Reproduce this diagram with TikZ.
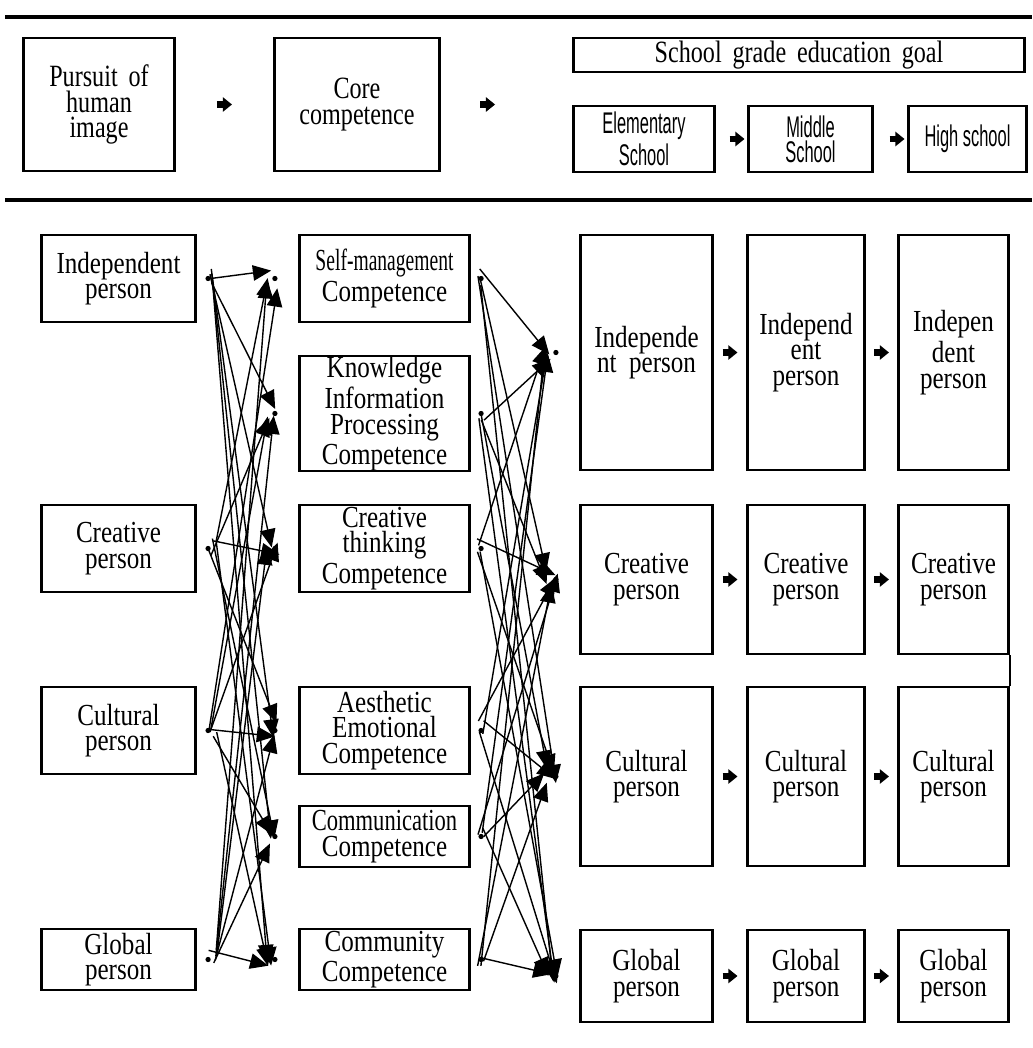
\documentclass[tikz,border=0pt]{standalone}
\usepackage{fontspec}
\usepackage{graphicx}
\setmainfont{Liberation Serif}
\newfontfamily\topserif{Liberation Serif}[FakeStretch=0.78, WordSpace=1.8]
\newfontfamily\lowserif{Liberation Serif}[FakeStretch=0.82]
\newfontfamily\narrowsans{Liberation Sans}[FakeStretch=0.55]
\usetikzlibrary{arrows.meta, calc}
\tikzstyle{frame} = [rectangle, draw=black, line width=0.6pt, inner sep=0pt, text centered, align=center, path picture={\draw[line width=1.3pt] (path picture bounding box.north west) -- (path picture bounding box.south west) (path picture bounding box.north east) -- (path picture bounding box.south east);}]
\tikzstyle{top} = [frame, font=\topserif\fontsize{8.8}{7.3}\selectfont]
\tikzstyle{grade} = [frame, font=\narrowsans\fontsize{8.5}{7.2}\selectfont, minimum height=0.66cm]
\tikzstyle{person} = [frame, font=\lowserif\fontsize{8.7}{7.2}\selectfont]
\tikzstyle{human} = [person, minimum width=1.55cm, minimum height=0.87cm]
\tikzstyle{comp} = [person, minimum width=1.71cm, minimum height=0.87cm]
\tikzstyle{link} = [line width=0.4pt, -{Triangle[length=5.2pt,width=4.4pt]}]
\tikzstyle{fat} = [line width=1.8pt, -{Triangle[length=2.6pt,width=4pt]}]
\tikzstyle{rule} = [line width=1.1pt]
\newcommand\fatstep[3][0.5]{\draw [fat] ($(#2.east)!#1!(#3.west)$) ++(-7.5,0) -- ++(15,0);}

\begin{document}
\begin{tikzpicture}
[x=0.01cm, y=-0.01cm, nodes={align=center}]
\useasboundingbox (0,0) rectangle (1032,1048);
\draw [rule] (5,17) -- (1032,17);
\draw [rule] (5,200) -- (1032,200);

% header row
\node (pursuit) [top, minimum width=1.52cm, minimum height=1.33cm] at (99,104.5) {Pursuit of\\human\\image};
\node (core) [top, minimum width=1.66cm, minimum height=1.33cm] at (357,104.5) {Core\\competence};
\node (sgoal) [top, minimum width=4.52cm, minimum height=0.34cm] at (799,55) {School grade education goal};
\node (elem) [grade, minimum width=1.42cm] at (644,139) {Elementary\\School};
\node (middle) [grade, minimum width=1.25cm] at (810.5,139) {Middle\\School};
\node (high) [grade, minimum width=1.19cm] at (967.5,139) {High school};

\fatstep{pursuit}{core}
\draw [fat] ($(core.east)+(39,0)$) -- ++(15,0);
\fatstep[0.68]{elem}{middle}
\fatstep[0.7]{middle}{high}

% pursuit of human image
\node (hIndep) [human] at (118.5,278.5) {Independent\\person};
\node (hCreat) [human] at (118.5,548.5) {Creative\\person};
\node (hCult) [human] at (118.5,730.5) {Cultural\\person};
\node (hGlob) [human, minimum height=0.61cm] at (118.5,959.5) {Global\\person};

% core competences
\node (cSelf) [comp] at (384.5,278.5) {\scalebox{0.78}[1]{Self-management}\\Competence};
\node (cKnow) [comp, minimum height=1.13cm] at (384.5,413.5) {Knowledge\\Information\\Processing\\Competence};
\node (cCreat) [comp] at (384.5,548.5) {Creative\\thinking\\Competence};
\node (cAesth) [comp] at (384.5,730.5) {Aesthetic\\Emotional\\Competence};
\node (cComm) [comp, minimum height=0.61cm] at (384.5,836.5) {\scalebox{0.9}[1]{Communication}\\Competence};
\node (cCommu) [comp, minimum height=0.61cm] at (384.5,959.5) {Community\\Competence};

% school grade goals
\node (gInd1) [person, minimum width=1.33cm, minimum height=2.35cm] at (646.5,352.5) {Independe\\nt\ \ person};
\node (gInd2) [person, minimum width=1.18cm, minimum height=2.35cm] at (806,352.5) {Independ\\ent\\person};
\node (gInd3) [person, minimum width=1.11cm, minimum height=2.35cm] at (953.5,352.5) {Indepen\\dent\\person};
\node (gCre1) [person, minimum width=1.33cm, minimum height=1.49cm] at (646.5,579.5) {Creative\\person};
\node (gCre2) [person, minimum width=1.18cm, minimum height=1.49cm] at (806,579.5) {Creative\\person};
\node (gCre3) [person, minimum width=1.11cm, minimum height=1.49cm] at (953.5,579.5) {Creative\\person};
\node (gCul1) [person, minimum width=1.33cm, minimum height=1.79cm] at (646.5,776.5) {Cultural\\person};
\node (gCul2) [person, minimum width=1.18cm, minimum height=1.79cm] at (806,776.5) {Cultural\\person};
\node (gCul3) [person, minimum width=1.11cm, minimum height=1.79cm] at (953.5,776.5) {Cultural\\person};
\node (gGlo1) [person, minimum width=1.33cm, minimum height=0.92cm] at (646.5,976) {Global\\person};
\node (gGlo2) [person, minimum width=1.18cm, minimum height=0.92cm] at (806,976) {Global\\person};
\node (gGlo3) [person, minimum width=1.11cm, minimum height=0.92cm] at (953.5,976) {Global\\person};

\foreach \r in {Ind,Cre,Cul,Glo} {\fatstep{g\r1}{g\r2} \fatstep{g\r2}{g\r3}}
\draw [line width=0.4pt] (gCre3.south east) -- (gCul3.north east);

% dots
\coordinate (ipo) at ($(hIndep.east)+(11,0)$);
\coordinate (cpo) at ($(hCreat.east)+(11,0)$);
\coordinate (cuo) at ($(hCult.east)+(11,0)$);
\coordinate (glo) at ($(hGlob.east)+(11,0)$);
\foreach \c/\n in {sm/cSelf,ki/cKnow,ct/cCreat,ae/cAesth,cm/cComm,cy/cCommu} {
  \coordinate (\c i) at ($(\n.west)+(-23,0)$);
  \coordinate (\c o) at ($(\n.east)+(10,0)$);
}
\foreach \r in {Ind,Cre,Cul,Glo}
  \coordinate (\r i) at ($(g\r1.west)+(-23,0)$);

% many-to-many links
\pgfmathsetseed{4242}
\foreach \src in {ipo,cpo,cuo,glo}
  \foreach \dst in {smi,kii,cti,aei,cmi,cyi} {
    \pgfmathsetmacro\ax{9*rnd}
    \pgfmathsetmacro\ay{18*rnd-10}
    \pgfmathsetmacro\bx{14*rnd-8}
    \pgfmathsetmacro\by{18*rnd-8}
    \draw [link] ($(\src)+(\ax,\ay)$) -- ($(\dst)+(\bx,\by)$);
  }
\foreach \src in {smo,kio,cto,aeo,cmo,cyo}
  \foreach \dst in {Indi,Crei,Culi,Gloi} {
    \pgfmathsetmacro\ax{8*rnd-5}
    \pgfmathsetmacro\ay{18*rnd-10}
    \pgfmathsetmacro\bx{14*rnd-12}
    \pgfmathsetmacro\by{18*rnd-8}
    \draw [link] ($(\src)+(\ax,\ay)$) -- ($(\dst)+(\bx,\by)$);
  }
\foreach \d in {ipo,cpo,cuo,glo,smi,kii,cti,aei,cmi,cyi,smo,kio,cto,aeo,cmo,cyo,Indi,Crei,Culi,Gloi}
  \fill (\d) circle (0.75pt);

\end{tikzpicture}
\end{document}
